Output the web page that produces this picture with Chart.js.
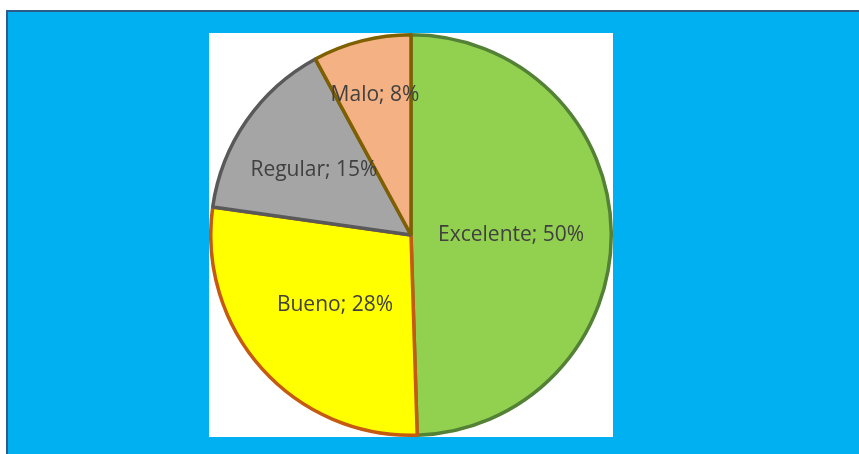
<!DOCTYPE html>
<html lang="es">
<head>
<meta charset="utf-8">
<title>Valoración</title>
<script src="https://cdn.jsdelivr.net/npm/chart.js@4.4.1/dist/chart.umd.min.js"></script>
<style>
    html, body { margin: 0; padding: 0; background: #ffffff; overflow: hidden; }
    .frame {
        position: absolute;
        left: 6px;
        top: 10px;
        width: 859px;
        height: 450px;
        background: #00b0f0;
        border-left: 2px solid #2f5b87;
        border-top: 2px solid #2f5b87;
    }
    .plot {
        position: absolute;
        left: 209px;
        top: 33px;
        width: 404px;
        height: 404px;
        background: #ffffff;
    }
</style>
</head>
<body>
<div class="frame"></div>
<div class="plot"><canvas id="chart"></canvas></div>
<script>
// Respuestas de la encuesta (porcentaje)
const categories = ["Excelente", "Bueno", "Regular", "Malo"];
const percents = [50, 28, 15, 8];

const fillColors = ["#92d050", "#ffff00", "#a5a5a5", "#f4b183"];
const edgeColors = ["#538135", "#c55a11", "#595959", "#7f6000"];

// Draws "Categoria; NN%" inside each slice, at a chosen fraction of the radius
const sliceLabels = {
    id: "sliceLabels",
    afterDatasetsDraw(chart, args, opts) {
        const ctx = chart.ctx;
        const meta = chart.getDatasetMeta(0);
        ctx.save();
        ctx.font = opts.font;
        ctx.fillStyle = opts.color;
        ctx.textAlign = "center";
        ctx.textBaseline = "middle";
        meta.data.forEach((arc, i) => {
            const p = arc.getProps(["x", "y", "startAngle", "endAngle", "outerRadius"], true);
            const mid = (p.startAngle + p.endAngle) / 2;
            const r = p.outerRadius * opts.radius[i];
            const text = chart.data.labels[i] + "; " + chart.data.datasets[0].data[i] + "%";
            ctx.fillText(text, p.x + Math.cos(mid) * r, p.y + Math.sin(mid) * r + 2);
        });
        ctx.restore();
    }
};

new Chart(document.getElementById("chart"), {
    type: "pie",
    data: {
        labels: categories,
        datasets: [{
            data: percents,
            backgroundColor: fillColors,
            borderColor: edgeColors,
            borderWidth: 3.5
        }]
    },
    options: {
        responsive: true,
        maintainAspectRatio: false,
        animation: false,
        layout: { padding: 0 },
        plugins: {
            legend: { display: false },
            tooltip: { enabled: false },
            sliceLabels: {
                font: "21px 'Open Sans', sans-serif",
                color: "#404040",
                radius: [0.5, 0.51, 0.59, 0.73]
            }
        }
    },
    plugins: [sliceLabels]
});
</script>
</body>
</html>
